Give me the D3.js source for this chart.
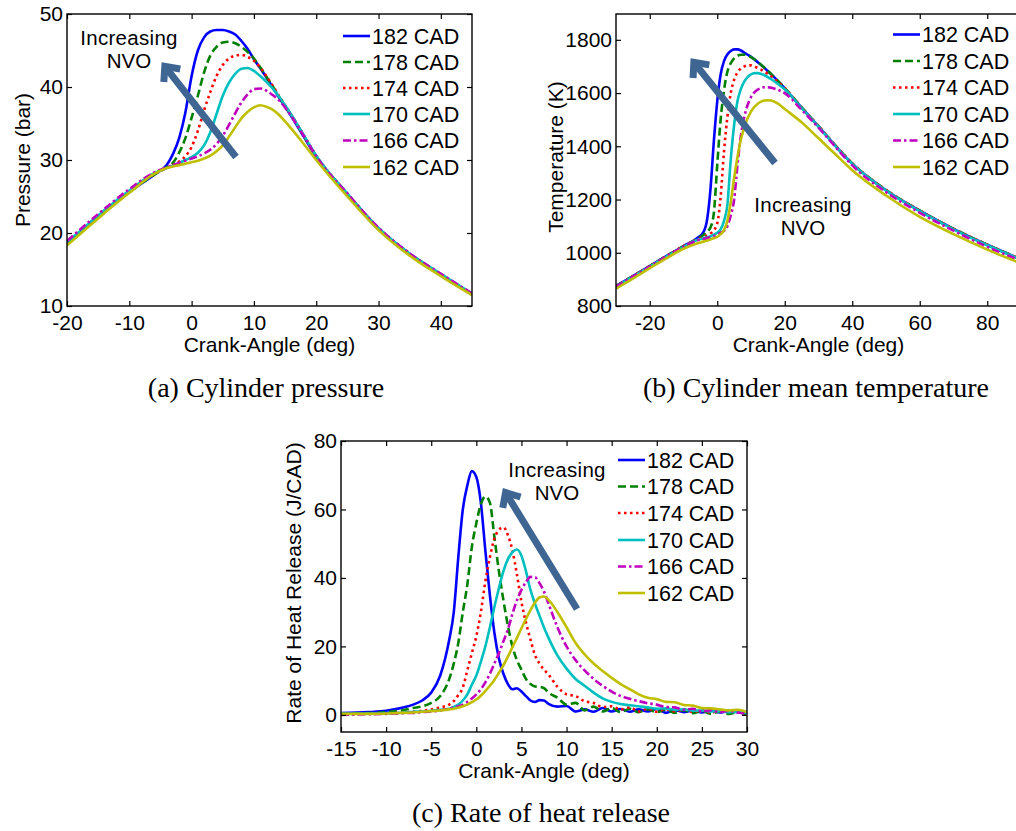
<!DOCTYPE html>
<html><head><meta charset="utf-8">
<script src="https://cdn.jsdelivr.net/npm/d3@7"></script>
<style>body{margin:0;background:#fff}svg{display:block}</style>
</head><body>
<svg id="chart" width="1016" height="831"></svg>
<script>
// ---------- data ----------
const seriesNames = ["182 CAD","178 CAD","174 CAD","170 CAD","166 CAD","162 CAD"];

// (a) Cylinder pressure (bar)
const pressureAngle = [-20,-15,-10,-6,-4,-3,-2,-1,0,1,2,3,4,5,6,7,8,9,10,11,12,13,14,15,16,18,20,25,30,35,40,45];
const pressure182 = [18.5,22.2,25.6,28.0,29.3,30.8,33.0,36.5,41.5,45.0,46.8,47.6,47.8,47.8,47.6,47.2,46.3,45.2,43.8,42.6,41.3,40.0,38.6,37.3,36.0,33.2,30.4,25.2,20.5,17.0,14.2,11.6];
const pressure178 = [18.5,22.2,25.6,28.0,29.0,29.6,31.0,33.0,35.8,38.8,42.0,44.3,45.5,46.1,46.2,46.0,45.5,44.8,43.9,42.7,41.4,40.1,38.7,37.4,36.1,33.3,30.5,25.3,20.6,17.1,14.3,11.6];
const pressure174 = [18.6,22.3,25.7,28.1,28.9,29.3,29.8,30.5,31.8,34.0,36.8,39.3,41.5,43.0,43.9,44.3,44.4,44.1,43.6,42.7,41.5,40.2,38.8,37.5,36.2,33.4,30.6,25.4,20.7,17.2,14.3,11.7];
const pressure170 = [18.7,22.4,25.8,28.2,28.9,29.2,29.6,30.0,30.4,31.0,32.0,33.8,36.3,38.8,40.6,41.8,42.5,42.6,42.2,41.5,40.7,39.8,38.7,37.5,36.2,33.4,30.6,25.4,20.7,17.2,14.4,11.7];
const pressure166 = [18.9,22.6,26.0,28.3,29.0,29.3,29.6,29.9,30.2,30.5,30.9,31.4,32.2,33.3,34.8,36.4,37.9,39.0,39.7,39.8,39.5,38.9,38.2,37.2,36.0,33.3,30.5,25.4,20.7,17.2,14.4,11.7];
const pressure162 = [18.3,22.0,25.5,28.1,28.9,29.1,29.3,29.5,29.7,29.9,30.2,30.6,31.2,32.0,33.2,34.5,35.7,36.6,37.2,37.5,37.3,36.9,36.2,35.3,34.3,32.2,30.0,25.0,20.4,16.9,14.1,11.5];
const pressureXTicks = [-20,-10,0,10,20,30,40];
const pressureYTicks = [10,20,30,40,50];

// (b) Cylinder mean temperature (K)
const tempAngle = [-30,-25,-20,-15,-10,-6,-4,-3,-2,-1,0,1,2,3,4,5,6,7,8,9,10,11,12,13,14,15,16,18,20,25,30,35,40,50,60,70,80,90];
const temp182 = [875,912,950,988,1025,1055,1080,1125,1240,1420,1570,1670,1720,1745,1758,1764,1764,1760,1752,1744,1736,1726,1716,1705,1694,1682,1670,1645,1618,1545,1475,1402,1335,1235,1158,1090,1030,975];
const temp178 = [875,912,950,988,1025,1052,1068,1080,1095,1150,1330,1500,1610,1680,1712,1730,1740,1744,1744,1741,1735,1727,1717,1706,1695,1683,1671,1646,1619,1546,1476,1403,1336,1236,1158,1090,1030,976];
const temp174 = [875,912,950,988,1025,1050,1060,1065,1072,1085,1110,1210,1380,1510,1600,1650,1678,1692,1700,1704,1704,1700,1694,1688,1680,1672,1663,1642,1618,1545,1476,1403,1336,1236,1158,1090,1030,976];
const temp170 = [873,910,948,986,1022,1048,1055,1058,1062,1068,1075,1088,1120,1180,1350,1480,1570,1615,1643,1660,1670,1675,1675,1672,1667,1660,1652,1634,1614,1543,1474,1401,1334,1234,1156,1088,1028,975];
const temp166 = [873,910,948,986,1022,1046,1052,1055,1058,1062,1068,1075,1082,1100,1140,1200,1330,1440,1510,1555,1585,1603,1613,1619,1622,1622,1620,1612,1600,1537,1470,1398,1328,1228,1150,1083,1022,970];
const temp162 = [865,903,942,980,1015,1035,1042,1046,1050,1055,1060,1070,1085,1120,1190,1280,1360,1425,1470,1505,1530,1548,1560,1568,1572,1573,1572,1560,1540,1490,1430,1370,1310,1215,1135,1070,1012,960];
const tempXTicks = [-20,0,20,40,60,80];
const tempYTicks = [800,1000,1200,1400,1600,1800];

// (c) Rate of heat release (J/CAD)
const hrrAngle = [-15,-12,-10,-8,-7,-6,-5,-4,-3,-2.5,-2,-1.5,-1,-0.5,0,0.5,1,1.5,2,2.5,3,3.5,4,4.5,5,5.5,6,6.5,7,7.5,8,9,10,11,12,13,14,15,16,17,18,19,20,21,22,23,24,25,26,27,28,29,30];
const hrr182 = [0.5,0.8,1.2,2.2,3.0,4.2,6.5,11.5,22,30,46,60,67,71.2,69.5,62,48,35,24,16.5,12,9,7.5,7.8,6.8,5.5,4.2,3.8,4.3,4.2,3.2,2.4,2.6,1.0,1.6,0.9,2.0,1.0,1.7,0.9,1.6,1.0,1.7,0.6,1.4,0.8,1.3,0.7,1.3,0.7,1.2,0.8,0.8];
const hrr178 = [0.3,0.5,0.8,1.4,2.0,2.5,3.5,5.5,10.5,15,21,30,38,49,56,61.5,63.8,62,52,42,33.5,26,20,16,13.2,10.5,9.0,8.3,8.2,7.8,6.5,5.0,3.0,3.5,1.3,2.4,1.0,2.0,0.8,1.8,0.8,1.6,0.8,1.5,0.6,1.4,0.5,1.2,0.3,1.0,0.3,0.8,0.0];
const hrr174 = [0.2,0.4,0.5,0.7,0.9,1.2,1.6,2.2,3.0,4.0,5.8,8.0,13,18,23,30,39,46,51.5,54,54.8,52.5,48,41,33,27,22,17.5,15,13.2,11.8,8.2,6.0,5.5,4.0,3.5,2.3,2.5,1.6,2.2,1.0,1.8,0.9,1.7,1.0,1.6,0.8,1.4,0.6,1.3,0.8,1.2,0.5];
const hrr170 = [0.3,0.4,0.5,0.7,0.9,1.0,1.2,1.5,1.8,2.3,3.0,4.2,6.0,8.8,11.5,15.5,20,25.5,31.5,37,42,45.5,47.5,48.3,46.5,42,36.5,32.5,29,25.5,22.5,17.3,13.5,10.5,8.5,6.5,4.8,3.8,3.2,2.8,2.5,2.2,1.8,1.9,1.5,1.6,1.2,1.3,1.0,1.1,0.8,0.9,0.6];
const hrr166 = [0.0,0.2,0.3,0.5,0.6,0.8,1.0,1.3,1.8,2.1,2.5,3.0,3.8,4.8,6.0,7.5,9.5,12,15,18,21.5,25,29.5,33.5,36.5,38.8,40.3,40.2,38.5,36,32.5,25.5,20,16,13,10.5,8.5,6.8,5.5,4.7,4.0,3.4,3.0,2.3,2.2,1.5,1.8,1.0,1.4,0.8,1.2,0.7,0.3];
const hrr162 = [0.3,0.3,0.4,0.6,0.7,0.9,1.1,1.3,1.6,1.8,2.1,2.5,3.0,3.7,4.5,5.6,7.0,8.5,10.2,12.3,14.5,17,19.8,22.5,25.3,28,30.6,32.8,34.3,34.6,33.6,30,25.6,21,17.7,15,12.8,10.8,9.0,7.5,6.0,5.0,4.6,3.8,3.7,2.9,2.7,2.0,1.9,1.6,1.3,1.5,0.8];
const hrrXTicks = [-15,-10,-5,0,5,10,15,20,25,30];
const hrrYTicks = [0,20,40,60,80];

// ---------- styles ----------
const colors = ["#0000ff","#008000","#ff0000","#00bfbf","#bf00bf","#bfbf00"];
const dashes = [null,"8,4","2.5,3.5",null,"8,3,2.5,3",null];
const SANS = "'Liberation Sans', Arial, Helvetica, sans-serif";
const SERIF = "'Liberation Serif', 'Times New Roman', Times, serif";
const arrowColor = "#3f6592";
const tickFmt = d => String(d);

const svg = d3.select("#chart");
svg.append("rect").attr("width",1016).attr("height",831).attr("fill","#fff");

const panels = [
  { id:"a", x: pressureAngle, ys:[pressure182,pressure178,pressure174,pressure170,pressure166,pressure162],
    xDomain:[-20,45], yDomain:[10,50], left:67, right:472, top:14, bottom:306,
    xTicks:pressureXTicks, yTicks:pressureYTicks, yLabel:"Pressure (bar)", yLabelX:30, yLabelY:160,
    legendX:343, legendY:[36,62,88,114,140.5,167],
    note:{x:129, y1:45, y2:68}, arrow:{x1:236,y1:157,x2:163,y2:64},
    caption:"(a) Cylinder pressure", capX:266, capY:397 },
  { id:"b", x: tempAngle, ys:[temp182,temp178,temp174,temp170,temp166,temp162],
    xDomain:[-30,90], yDomain:[800,1897], left:616, right:1021, top:14, bottom:306,
    xTicks:tempXTicks, yTicks:tempYTicks, yLabel:"Temperature (K)", yLabelX:563, yLabelY:157,
    legendX:893, legendY:[34.5,61,87.5,114,140.5,167],
    note:{x:803, y1:211.5, y2:235}, arrow:{x1:775,y1:163,x2:692,y2:60},
    caption:"(b) Cylinder mean temperature", capX:816, capY:397 },
  { id:"c", x: hrrAngle, ys:[hrr182,hrr178,hrr174,hrr170,hrr166,hrr162],
    xDomain:[-15,30], yDomain:[-5,80], left:341, right:747, top:441, bottom:732,
    xTicks:hrrXTicks, yTicks:hrrYTicks, yLabel:"Rate of Heat Release (J/CAD)", yLabelX:301, yLabelY:583,
    legendX:618, legendY:[460,486.5,513,540,566.5,593],
    note:{x:557, y1:476.5, y2:500}, arrow:{x1:577,y1:609,x2:504,y2:490},
    caption:"(c) Rate of heat release", capX:541, capY:822 }
];

panels.forEach(p => {
  const x = d3.scaleLinear().domain(p.xDomain).range([p.left, p.right]);
  const y = d3.scaleLinear().domain(p.yDomain).range([p.bottom, p.top]);
  const g = svg.append("g");
  const clipId = "clip-" + p.id;
  svg.append("clipPath").attr("id", clipId).append("rect")
    .attr("x", p.left).attr("y", p.top).attr("width", p.right - p.left).attr("height", p.bottom - p.top);

  // series lines
  const line = d3.line().x((d,i) => x(p.x[i])).y(d => y(d)).curve(d3.curveMonotoneX);
  const lines = g.append("g").attr("clip-path", `url(#${clipId})`);
  p.ys.forEach((vals, k) => {
    lines.append("path").attr("d", line(vals)).attr("fill","none")
      .attr("stroke", colors[k]).attr("stroke-width", 2.6)
      .attr("stroke-dasharray", dashes[k]).attr("stroke-linejoin","round");
  });

  // axes (inward ticks on all four sides)
  const fontSize = 21;
  const bottomAxis = d3.axisBottom(x).tickValues(p.xTicks).tickSizeInner(-5).tickSizeOuter(0).tickPadding(8.6).tickFormat(tickFmt);
  const topAxis = d3.axisTop(x).tickValues(p.xTicks).tickSizeInner(-5).tickSizeOuter(0).tickFormat("");
  const leftAxis = d3.axisLeft(y).tickValues(p.yTicks).tickSizeInner(-5).tickSizeOuter(0).tickPadding(4).tickFormat(tickFmt);
  const rightAxis = d3.axisRight(y).tickValues(p.yTicks).tickSizeInner(-5).tickSizeOuter(0).tickFormat("");
  const styleAxis = sel => {
    sel.select(".domain").remove();
    sel.selectAll("line").attr("stroke","#000").attr("stroke-width",1.2);
    sel.selectAll("text").attr("font-family", SANS).attr("font-size", fontSize).attr("fill","#000");
  };
  g.append("g").attr("transform",`translate(0,${p.bottom})`).call(bottomAxis).call(styleAxis);
  g.append("g").attr("transform",`translate(0,${p.top})`).call(topAxis).call(styleAxis);
  g.append("g").attr("transform",`translate(${p.left},0)`).call(leftAxis).call(styleAxis);
  g.append("g").attr("transform",`translate(${p.right},0)`).call(rightAxis).call(styleAxis);

  g.append("rect").attr("x", p.left).attr("y", p.top)
    .attr("width", p.right - p.left).attr("height", p.bottom - p.top)
    .attr("fill","none").attr("stroke","#000").attr("stroke-width",1.4);

  // axis labels
  g.append("text").attr("x", (p.left + p.right) / 2).attr("y", p.bottom + 46)
    .attr("text-anchor","middle").attr("font-family", SANS).attr("font-size", fontSize)
    .text("Crank-Angle (deg)");
  g.append("text").attr("transform", `translate(${p.yLabelX},${p.yLabelY}) rotate(-90)`)
    .attr("text-anchor","middle").attr("font-family", SANS).attr("font-size", fontSize)
    .text(p.yLabel);

  // legend
  const lg = g.append("g");
  seriesNames.forEach((name, k) => {
    const ly = p.legendY[k];
    lg.append("line").attr("x1", p.legendX).attr("x2", p.legendX + 27).attr("y1", ly).attr("y2", ly)
      .attr("stroke", colors[k]).attr("stroke-width", 2.6).attr("stroke-dasharray", dashes[k]);
    lg.append("text").attr("x", p.legendX + 29).attr("y", ly + 7.6)
      .attr("font-family", SANS).attr("font-size", 21.5).text(name);
  });

  // annotation
  g.append("text").attr("x", p.note.x).attr("y", p.note.y1).attr("text-anchor","middle")
    .attr("font-family", SANS).attr("font-size", 20.5).attr("letter-spacing", 0.3).text("Increasing");
  g.append("text").attr("x", p.note.x).attr("y", p.note.y2).attr("text-anchor","middle")
    .attr("font-family", SANS).attr("font-size", 20.5).text("NVO");

  // arrow
  const a = p.arrow;
  const ang = Math.atan2(a.y1 - a.y2, a.x1 - a.x2);
  const headLen = 18, spread = 0.62;
  const h1 = [a.x2 + headLen * Math.cos(ang + spread), a.y2 + headLen * Math.sin(ang + spread)];
  const h2 = [a.x2 + headLen * Math.cos(ang - spread), a.y2 + headLen * Math.sin(ang - spread)];
  const tipIn = [a.x2 + 3 * Math.cos(ang), a.y2 + 3 * Math.sin(ang)];
  g.append("line").attr("x1", a.x1).attr("y1", a.y1).attr("x2", tipIn[0]).attr("y2", tipIn[1])
    .attr("stroke", arrowColor).attr("stroke-width", 7);
  g.append("path").attr("d", d3.line()([h1, tipIn, h2])).attr("fill","none")
    .attr("stroke", arrowColor).attr("stroke-width", 7).attr("stroke-linejoin","miter").attr("stroke-miterlimit", 10);

  // caption
  svg.append("text").attr("x", p.capX).attr("y", p.capY).attr("text-anchor","middle")
    .attr("font-family", SERIF).attr("font-size", 28).text(p.caption);
});
</script>
</body></html>
